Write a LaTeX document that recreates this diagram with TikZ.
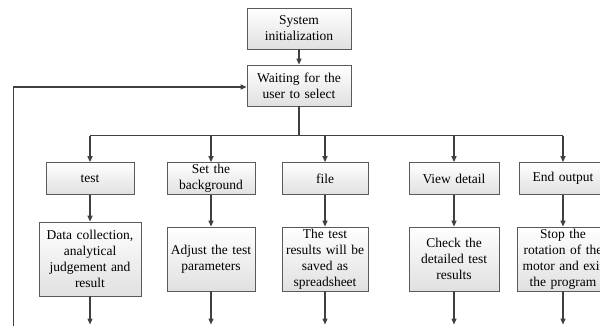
\documentclass[tikz,border=0pt]{standalone}
\usepackage{fontspec}
\setmainfont{Liberation Serif}
\usetikzlibrary{arrows.meta}
\definecolor{lnc}{RGB}{64,64,64}
\definecolor{bdc}{RGB}{90,90,90}
\tikzset{
  x=1pt,y=1pt,
  box/.style={draw=bdc, line width=0.8pt, top color=white, bottom color=black!12,
    align=center, inner sep=1pt, font=\fontsize{13.5}{16}\selectfont},
  arr/.style={draw=lnc, line width=1.3pt, -{Triangle[length=6pt,width=5pt]}},
  ln/.style={draw=lnc, line width=1.3pt}
}
\begin{document}
\begin{tikzpicture}
\clip (0,0) rectangle (600,-325);
\fill[white] (0,0) rectangle (600,-325);
% top boxes
\node[box, minimum width=104, minimum height=41, text width=100] (init) at (299,-28.5) {System\\initialization};
\node[box, minimum width=104, minimum height=41, text width=100] (wait) at (299,-85.5) {Waiting for the\\user to select};
% menu boxes
\node[box, minimum width=88, minimum height=32, text width=86] (m1) at (90,-178.5) {test};
\node[box, minimum width=88, minimum height=32, text width=86] (m2) at (211,-178.5) {Set the\\background};
\node[box, minimum width=86, minimum height=32, text width=84] (m3) at (325,-178.5) {file};
\node[box, minimum width=90, minimum height=32, text width=88] (m4) at (454,-178.5) {View detail};
\node[box, minimum width=88, minimum height=32, text width=86] (m5) at (563,-178.5) {End output};
% action boxes
\node[box, minimum width=102, minimum height=74, text width=100] (a1) at (90,-259) {Data collection,\\analytical\\judgement and\\result};
\node[box, minimum width=88, minimum height=64, text width=86] (a2) at (211,-259) {Adjust the test\\parameters};
\node[box, minimum width=86, minimum height=64, text width=84] (a3) at (325,-259) {The test\\results will be\\saved as\\spreadsheet};
\node[box, minimum width=90, minimum height=64, text width=88] (a4) at (454,-259) {Check the\\detailed test\\results};
\node[box, minimum width=88, minimum height=64, text width=90] (a5) at (563,-259) {Stop the\\rotation of the\\motor and exit\\the program};
% coordinates
\coordinate (bus) at (0,-135.5);
\coordinate (bot) at (0,-324.5);
\coordinate (loopb) at (13.5,-330);
% connectors
\draw[arr] (init) -- (wait);
\draw[ln] (wait.south) -- (wait.south |- bus);
\draw[ln] (m1.north |- bus) -- (m5.north |- bus);
\foreach \i in {1,...,5}{
  \draw[arr] (m\i.north |- bus) -- (m\i.north);
  \draw[arr] (m\i) -- (a\i);
  \draw[arr] (a\i.south) -- (a\i.south |- bot);
}
\draw[arr] (loopb) |- ([yshift=-1.5pt]wait.west);
\end{tikzpicture}
\end{document}
